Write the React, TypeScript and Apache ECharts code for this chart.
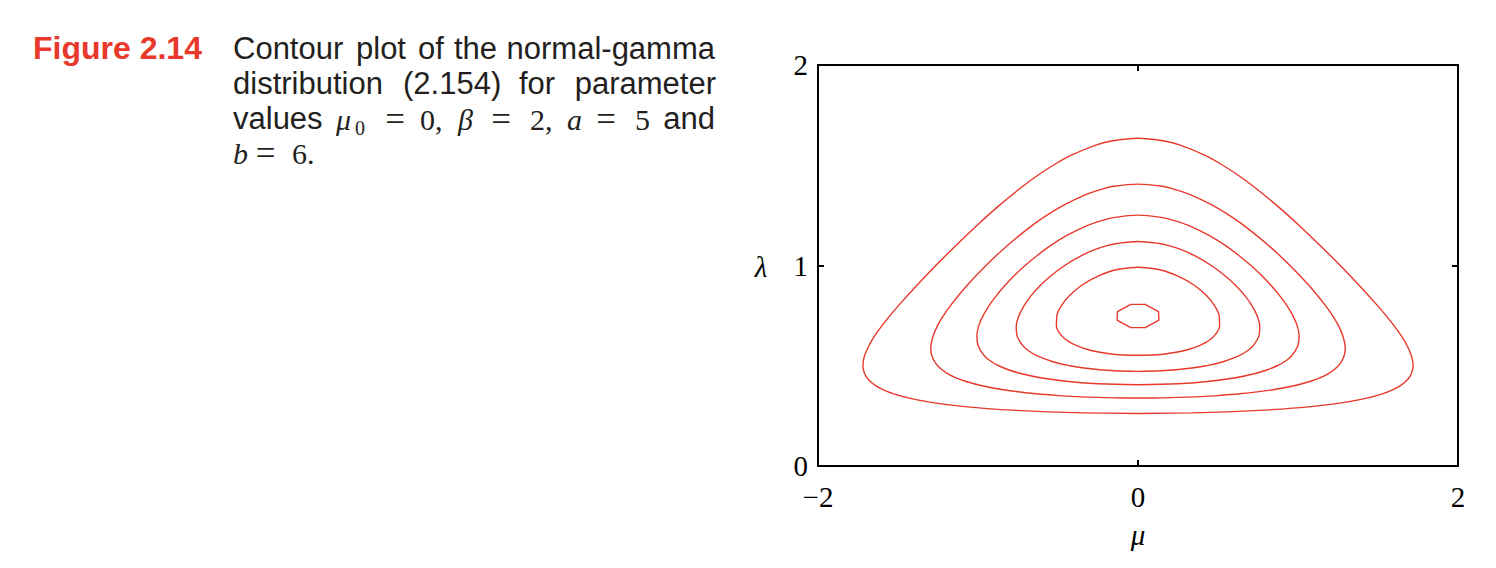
import React, { useEffect, useRef } from "react";
import * as echarts from "echarts";

// Axis ticks
const xTicks = [-2, 0, 2];
const yTicks = [0, 1, 2];

// Contour lines of the normal-gamma density, [mu, lambda] pairs
const contour1 = [
  [0, 0.262], [0.338, 0.265], [0.559, 0.27], [0.82, 0.28], [0.993, 0.29], [1.123, 0.3],
  [1.31, 0.32], [1.437, 0.34], [1.527, 0.36], [1.591, 0.38], [1.638, 0.4], [1.671, 0.42],
  [1.694, 0.44], [1.708, 0.46], [1.716, 0.48], [1.719, 0.5], [1.717, 0.52], [1.709, 0.55],
  [1.682, 0.6], [1.645, 0.65], [1.6, 0.7], [1.55, 0.75], [1.497, 0.8], [1.383, 0.9],
  [1.264, 1.0], [1.138, 1.1], [1.007, 1.2], [0.867, 1.3], [0.712, 1.4], [0.626, 1.45],
  [0.53, 1.5], [0.416, 1.55], [0.264, 1.6], [0.171, 1.62], [0, 1.635],
  [-0.171, 1.62], [-0.264, 1.6], [-0.416, 1.55], [-0.53, 1.5], [-0.626, 1.45], [-0.712, 1.4],
  [-0.867, 1.3], [-1.007, 1.2], [-1.138, 1.1], [-1.264, 1.0], [-1.383, 0.9], [-1.497, 0.8],
  [-1.55, 0.75], [-1.6, 0.7], [-1.645, 0.65], [-1.682, 0.6], [-1.709, 0.55], [-1.717, 0.52],
  [-1.719, 0.5], [-1.716, 0.48], [-1.708, 0.46], [-1.694, 0.44], [-1.671, 0.42], [-1.638, 0.4],
  [-1.591, 0.38], [-1.527, 0.36], [-1.437, 0.34], [-1.31, 0.32], [-1.123, 0.3], [-0.993, 0.29],
  [-0.82, 0.28], [-0.559, 0.27], [-0.338, 0.265], [0, 0.262],
];

const contour2 = [
  [0, 0.339], [0.159, 0.34], [0.358, 0.345], [0.475, 0.35], [0.636, 0.36], [0.842, 0.38],
  [0.975, 0.4], [1.068, 0.42], [1.137, 0.44], [1.188, 0.46], [1.225, 0.48], [1.252, 0.5],
  [1.271, 0.52], [1.288, 0.55], [1.295, 0.58], [1.294, 0.6], [1.28, 0.65], [1.253, 0.7],
  [1.216, 0.75], [1.172, 0.8], [1.069, 0.9], [0.95, 1.0], [0.816, 1.1], [0.661, 1.2],
  [0.571, 1.25], [0.467, 1.3], [0.337, 1.35], [0.229, 1.38], [0.15, 1.395], [0, 1.406],
  [-0.15, 1.395], [-0.229, 1.38], [-0.337, 1.35], [-0.467, 1.3], [-0.571, 1.25], [-0.661, 1.2],
  [-0.816, 1.1], [-0.95, 1.0], [-1.069, 0.9], [-1.172, 0.8], [-1.216, 0.75], [-1.253, 0.7],
  [-1.28, 0.65], [-1.294, 0.6], [-1.295, 0.58], [-1.288, 0.55], [-1.271, 0.52], [-1.252, 0.5],
  [-1.225, 0.48], [-1.188, 0.46], [-1.137, 0.44], [-1.068, 0.42], [-0.975, 0.4], [-0.842, 0.38],
  [-0.636, 0.36], [-0.475, 0.35], [-0.358, 0.345], [-0.159, 0.34], [0, 0.339],
];

const contour3 = [
  [0, 0.405], [0.249, 0.41], [0.42, 0.42], [0.609, 0.44], [0.727, 0.46], [0.81, 0.48],
  [0.87, 0.5], [0.915, 0.52], [0.961, 0.55], [0.999, 0.6], [1.007, 0.65], [0.995, 0.7],
  [0.968, 0.75], [0.931, 0.8], [0.885, 0.85], [0.832, 0.9], [0.773, 0.95], [0.706, 1.0],
  [0.63, 1.05], [0.545, 1.1], [0.444, 1.15], [0.314, 1.2], [0.223, 1.225], [0.144, 1.24], [0, 1.251],
  [-0.144, 1.24], [-0.223, 1.225], [-0.314, 1.2], [-0.444, 1.15], [-0.545, 1.1], [-0.63, 1.05],
  [-0.706, 1.0], [-0.773, 0.95], [-0.832, 0.9], [-0.885, 0.85], [-0.931, 0.8], [-0.968, 0.75],
  [-0.995, 0.7], [-1.007, 0.65], [-0.999, 0.6], [-0.961, 0.55], [-0.915, 0.52], [-0.87, 0.5],
  [-0.81, 0.48], [-0.727, 0.46], [-0.609, 0.44], [-0.42, 0.42], [-0.249, 0.41], [0, 0.405],
];

const contour4 = [
  [0, 0.472], [0.146, 0.475], [0.238, 0.48], [0.35, 0.49], [0.426, 0.5], [0.532, 0.52],
  [0.632, 0.55], [0.693, 0.58], [0.72, 0.6], [0.756, 0.65], [0.761, 0.7], [0.744, 0.75],
  [0.712, 0.8], [0.668, 0.85], [0.611, 0.9], [0.542, 0.95], [0.458, 1.0], [0.351, 1.05],
  [0.266, 1.08], [0.188, 1.1], [0.133, 1.11], [0, 1.12],
  [-0.133, 1.11], [-0.188, 1.1], [-0.266, 1.08], [-0.351, 1.05], [-0.458, 1.0], [-0.542, 0.95],
  [-0.611, 0.9], [-0.668, 0.85], [-0.712, 0.8], [-0.744, 0.75], [-0.761, 0.7], [-0.756, 0.65],
  [-0.72, 0.6], [-0.693, 0.58], [-0.632, 0.55], [-0.532, 0.52], [-0.426, 0.5], [-0.35, 0.49],
  [-0.238, 0.48], [-0.146, 0.475], [0, 0.472],
];

const contour5 = [
  [0, 0.552], [0.116, 0.555], [0.178, 0.56], [0.256, 0.57], [0.31, 0.58], [0.384, 0.6],
  [0.432, 0.62], [0.478, 0.65], [0.51, 0.7], [0.507, 0.75], [0.478, 0.8], [0.428, 0.85],
  [0.354, 0.9], [0.294, 0.93], [0.243, 0.95], [0.176, 0.97], [0.128, 0.98], [0, 0.991],
  [-0.128, 0.98], [-0.176, 0.97], [-0.243, 0.95], [-0.294, 0.93], [-0.354, 0.9], [-0.428, 0.85],
  [-0.478, 0.8], [-0.507, 0.75], [-0.51, 0.7], [-0.478, 0.65], [-0.432, 0.62], [-0.384, 0.6],
  [-0.31, 0.58], [-0.256, 0.57], [-0.178, 0.56], [-0.116, 0.555], [0, 0.552],
];

const contour6 = [
  [-0.045, 0.806], [0.045, 0.806], [0.128, 0.77], [0.131, 0.728], [0.045, 0.69],
  [-0.045, 0.69], [-0.131, 0.728], [-0.128, 0.77], [-0.045, 0.806],
];

const smoothContours = [contour1, contour2, contour3, contour4, contour5];

const RED = "#e8392c";
const INK = "#231f20";
const SANS = '"Liberation Sans", Arial, Helvetica, sans-serif';
const SERIF = '"Liberation Serif", "Times New Roman", serif';

function txt(text: string, x: number, y: number, font: string, fill = INK, align = "left") {
  return {
    type: "text",
    x,
    y,
    silent: true,
    style: {
      text,
      font,
      fill,
      align,
      verticalAlign: "middle",
      textAlign: align,
      textVerticalAlign: "middle",
    },
  };
}

export default function App() {
  const ref = useRef<HTMLDivElement>(null);

  useEffect(() => {
    if (!ref.current) return;
    const chart = echarts.init(ref.current, null, { renderer: "svg" });

    const sans = `31px ${SANS}`;
    const serif30 = `30px ${SERIF}`;
    const eq = `35px ${SERIF}`;
    const serifIt30 = `italic 30px ${SERIF}`;

    const caption = [
      txt("Figure 2.14", 33, 47.9, `bold 32px ${SANS}`, RED),
      // line 1
      txt("Contour", 233, 48.3, sans),
      txt("plot", 356, 48.3, sans),
      txt("of", 418, 48.3, sans),
      txt("the", 454, 48.3, sans),
      txt("normal-gamma", 715, 48.3, sans, INK, "right"),
      // line 2
      txt("distribution", 233, 83.8, sans),
      txt("(2.154)", 403, 83.8, sans),
      txt("for", 519, 83.8, sans),
      txt("parameter", 716, 83.8, sans, INK, "right"),
      // line 3
      txt("values", 233, 118.8, sans),
      txt("μ", 336, 119.4, serifIt30),
      txt("0", 355, 127.5, `20px ${SERIF}`),
      txt("=", 395, 119.0, eq, INK, "center"),
      txt("0,", 420, 119.4, serif30),
      txt("β", 458, 119.4, serifIt30),
      txt("=", 501, 119.0, eq, INK, "center"),
      txt("2,", 530, 119.4, serif30),
      txt("a", 567, 119.4, serifIt30),
      txt("=", 606, 119.0, eq, INK, "center"),
      txt("5", 635, 119.4, serif30),
      txt("and", 715, 118.8, sans, INK, "right"),
      // line 4
      txt("b", 233, 153.9, serifIt30),
      txt("=", 265.5, 153.5, eq, INK, "center"),
      txt("6.", 292, 153.9, serif30),
      // axis names
      txt("λ", 761, 267, `italic 29px ${SERIF}`, "#000", "center"),
      txt("μ", 1138, 535, `italic 29px ${SERIF}`, "#000", "center"),
    ];

    const axisLine = { show: true, onZero: false, lineStyle: { color: "#000", width: 2 } };
    const axisTick = { show: true, inside: true, length: 6, lineStyle: { color: "#000", width: 2 } };
    const labelBase = { fontFamily: SERIF, fontSize: 29, color: "#000" };
    const fmt = (v: number) => (v < 0 ? "\u2212" + Math.abs(v) : String(v));

    const xBase = {
      type: "value",
      min: xTicks[0],
      max: xTicks[xTicks.length - 1],
      interval: xTicks[1] - xTicks[0],
      axisLine,
      axisTick,
      splitLine: { show: false },
    };
    const yBase = {
      type: "value",
      min: yTicks[0],
      max: yTicks[yTicks.length - 1],
      interval: yTicks[1] - yTicks[0],
      axisLine,
      axisTick,
      splitLine: { show: false },
    };

    const series: any[] = smoothContours.map((c, i) => ({
      name: `level ${i + 1}`,
      type: "line",
      xAxisIndex: 0,
      yAxisIndex: 0,
      data: c,
      smooth: 0.35,
      showSymbol: false,
      symbol: "none",
      silent: true,
      lineStyle: { color: RED, width: 1.4 },
    }));
    series.push({
      name: "level 6",
      type: "line",
      xAxisIndex: 0,
      yAxisIndex: 0,
      data: contour6,
      smooth: false,
      showSymbol: false,
      symbol: "none",
      silent: true,
      lineStyle: { color: RED, width: 1.4 },
    });

    chart.setOption({
      animation: false,
      backgroundColor: "#ffffff",
      grid: { left: 818, right: 38, top: 65, bottom: 102, containLabel: false },
      xAxis: [
        { ...xBase, position: "bottom", axisLabel: { ...labelBase, margin: 16, formatter: fmt } },
        { ...xBase, position: "top", axisLabel: { show: false } },
      ],
      yAxis: [
        { ...yBase, position: "left", axisLabel: { ...labelBase, margin: 10, formatter: fmt } },
        { ...yBase, position: "right", axisLabel: { show: false } },
      ],
      series,
      graphic: caption,
    });

    return () => chart.dispose();
  }, []);

  return (
    <div
      ref={ref}
      style={{ position: "fixed", left: 0, top: 0, width: 1496, height: 568, background: "#fff" }}
    />
  );
}
